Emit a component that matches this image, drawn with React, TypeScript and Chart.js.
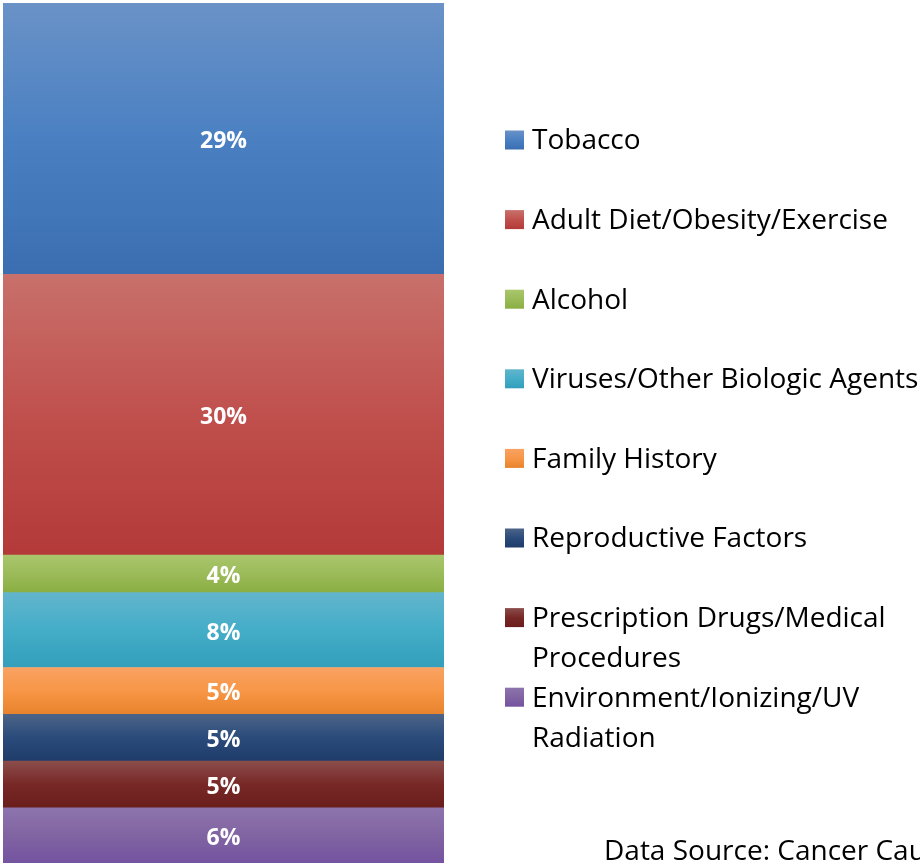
import React, { useEffect, useRef } from "react";
import { Chart, registerables } from "chart.js";

Chart.register(...registerables);

// Categories, top of the stack first (legend order)
const categories: string[][] = [
  ["Tobacco"],
  ["Adult Diet/Obesity/Exercise"],
  ["Alcohol"],
  ["Viruses/Other Biologic Agents"],
  ["Family History"],
  ["Reproductive Factors"],
  ["Prescription Drugs/Medical", "Procedures"],
  ["Environment/Ionizing/UV", "Radiation"],
];
const values: number[] = [29, 30, 4, 8, 5, 5, 5, 6];
// gradient colours: top, middle, bottom
const colorsTop: string[] = ["#6a92c7", "#c8706b", "#a9c66c", "#62b5cc", "#f9a263", "#4d6487", "#8b4d4b", "#8d74ad"];
const colorsMid: string[] = ["#4a80c2", "#c0504d", "#9bbb59", "#44adc8", "#f79646", "#2a4b7b", "#772826", "#8064a2"];
const colorsBot: string[] = ["#3a6eb0", "#b33a38", "#8aae42", "#339fbb", "#e8832c", "#1f3c69", "#6b1d1c", "#7452a0"];
const sourceText = "Data Source: Cancer Causes";

const TEXT_FONT = "'Open Sans', Lato, sans-serif";

// Stack bottom-to-top in Chart.js order
const order = values.map((_, i) => values.length - 1 - i);
const total = values.reduce((a, b) => a + b, 0);

const labelPlugin = {
  id: "segLabels",
  afterDatasetsDraw(chart: any) {
    const ctx = chart.ctx;
    ctx.save();
    ctx.fillStyle = "#ffffff";
    ctx.font = `bold 23px ${TEXT_FONT}`;
    ctx.textAlign = "center";
    ctx.textBaseline = "middle";
    chart.data.datasets.forEach((ds: any, di: number) => {
      const el = chart.getDatasetMeta(di).data[0] as any;
      if (!el) return;
      const v = ds.data[0];
      ctx.fillText(`${v}%`, el.x, (el.y + el.base) / 2 + 3);
    });
    ctx.restore();
  },
};

const legendPlugin = {
  id: "sideLegend",
  afterDraw(chart: any) {
    const ctx = chart.ctx;
    const area = chart.chartArea;
    const boxX = area.right + 61;
    const textX = boxX + 27;
    const firstY = 140;
    const slot = 79.6;
    const lineH = 40;
    ctx.save();
    ctx.font = `28px ${TEXT_FONT}`;
    ctx.textBaseline = "middle";
    ctx.textAlign = "left";
    categories.forEach((lines, i) => {
      const cy = firstY + slot * i;
      const g = ctx.createLinearGradient(0, cy - 9.5, 0, cy + 9.5);
      g.addColorStop(0, colorsTop[i]);
      g.addColorStop(0.5, colorsMid[i]);
      g.addColorStop(1, colorsBot[i]);
      ctx.fillStyle = g;
      ctx.fillRect(boxX, cy - 9.5, 19, 19);
      ctx.fillStyle = "#000000";
      lines.forEach((ln, li) => ctx.fillText(ln, textX, cy + li * lineH + 1.5));
    });
    ctx.fillText(sourceText, 604, 852);
    ctx.restore();
  },
};

export default function App() {
  const ref = useRef<HTMLCanvasElement | null>(null);
  useEffect(() => {
    if (!ref.current) return;
    const datasets = order.map((idx, k) => {
      const cumBelow = order.slice(0, k).reduce((s, j) => s + values[j], 0);
      return {
        label: categories[idx].join(" "),
        data: [values[idx]],
        borderWidth: 0,
        backgroundColor: (c: any) => {
          const chart = c.chart;
          const ys = chart.scales && chart.scales.y;
          if (!chart.chartArea || !ys) return colorsMid[idx];
          const top = ys.getPixelForValue(cumBelow + values[idx]);
          const bot = ys.getPixelForValue(cumBelow);
          const g = chart.ctx.createLinearGradient(0, top, 0, bot);
          g.addColorStop(0, colorsTop[idx]);
          g.addColorStop(0.5, colorsMid[idx]);
          g.addColorStop(1, colorsBot[idx]);
          return g;
        },
        categoryPercentage: 1,
        barPercentage: 1,
      };
    });
    const chart = new Chart(ref.current, {
      type: "bar",
      data: { labels: [""], datasets },
      options: {
        responsive: false,
        animation: false,
        layout: { padding: { left: 3, top: 3, right: 476, bottom: 0 } },
        plugins: { legend: { display: false }, tooltip: { enabled: false } },
        scales: {
          x: { stacked: true, display: false },
          y: { stacked: true, display: false, min: 0, max: total },
        },
      },
      plugins: [labelPlugin, legendPlugin],
    } as any);
    return () => chart.destroy();
  }, []);
  return (
    <div style={{ position: "fixed", left: 0, top: 0, width: 920, height: 863, overflow: "hidden", background: "#fff" }}>
      <canvas ref={ref} width={920} height={864} style={{ display: "block", width: 920, height: 864 }} />
    </div>
  );
}
